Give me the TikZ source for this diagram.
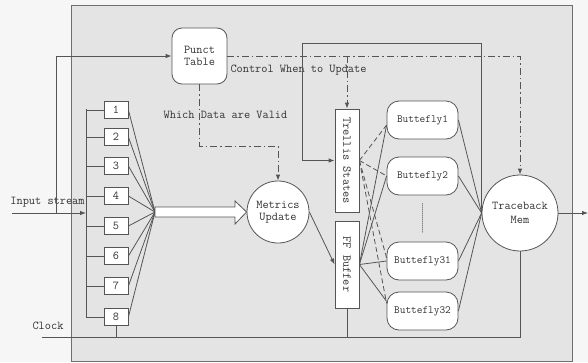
\documentclass[tikz,border=0pt]{standalone}
\usetikzlibrary{arrows.meta,calc}
\definecolor{ink}{HTML}{555555}
\definecolor{txt}{HTML}{333333}
\definecolor{panelfill}{HTML}{E4E4E4}
\definecolor{panelline}{HTML}{6E6E6E}
\definecolor{paper}{HTML}{F6F6F6}
\begin{document}
\begin{tikzpicture}[x=1pt,y=-1pt,
  font=\fontsize{12}{13}\selectfont\ttfamily, text=txt,
  line width=0.8pt, draw=ink,
  box/.style={draw=ink, fill=white, line width=0.8pt, inner sep=0pt, align=center},
  reg/.style={box, minimum width=24pt, minimum height=17pt},
  bfly/.style={box, rounded corners=12pt, minimum width=71pt, minimum height=38pt,
    font=\fontsize{11}{12}\selectfont\ttfamily},
  roundbox/.style={box, rounded corners=10pt, minimum width=55pt, minimum height=56pt},
  vbox/.style={box, minimum width=24pt},
  disc/.style={box, circle},
  arr/.style={-{Latex[length=6pt,width=4.5pt]}},
  ctrl/.style={ink, dash pattern=on 7pt off 3pt on 1.5pt off 3pt},
  link/.style={ink, dash pattern=on 5pt off 3pt},
  lbl/.style={inner sep=0pt}]

\useasboundingbox (0,0) rectangle (588,362);
\fill[paper] (0,0) rectangle (588,362);
% main processing panel
\path[draw=panelline, fill=panelfill, line width=1pt] (71,5) rectangle (572,361);

% blocks
\node[roundbox] (punct) at (199.5,56) {Punct\\[-1pt]Table};
\foreach \i/\yy in {1/110,2/137,3/166,4/196,5/226,6/256,7/286,8/317}
  \node[reg] (reg\i) at (116,\yy) {\i};
\node[disc, minimum size=62pt] (metrics) at (278,212) {Metrics\\[-1pt]Update};
\node[vbox, minimum height=103pt] (trellis) at (347,160.5) {\rotatebox{-90}{Trellis States}};
\node[vbox, minimum height=87pt] (ffbuf) at (347,264.5) {\rotatebox{-90}{FF Buffer}};
\node[bfly] (bf1) at (422.5,120) {Buttefly1};
\node[bfly] (bf2) at (422.5,176) {Buttefly2};
\node[bfly] (bf31) at (422.5,261) {Buttefly31};
\node[bfly] (bf32) at (422.5,311) {Buttefly32};
\node[disc, minimum size=76pt] (trace) at (520,213) {Traceback\\[1pt]Mem};

% free ends and junctions
\coordinate (in) at (12,213);
\coordinate (tap) at (56,213);
\coordinate (bustop) at (86,109);
\coordinate (busbot) at (86,317);
\coordinate (fan) at (155,212);
\coordinate (clk) at (42,337);
\coordinate (out) at (588,213);

% labels
\node[lbl] (instream) at (47.5,202) {Input stream};
\node[lbl] (clock) at (48,326) {Clock};
\node[lbl] (valid) at (225.5,115) {Which Data are Valid};
\node[lbl] (when) at (298.5,70) {Control When to Update};

% input bus feeding the eight registers
\draw[arr] (in) -- (in -| bustop);
\draw (bustop) -- (busbot);
\foreach \i in {1,...,8}
  \draw (reg\i.west -| bustop) -- (reg\i.west);
\draw[arr] (tap) |- (punct.west);

% registers merge into one wide path to the metrics unit
\foreach \i in {1,...,8}
  \draw (reg\i.east) -- (fan);
\fill[ink] ($(fan)+(-0.8,-3)$) rectangle ($(fan)+(0.8,3)$);
\draw[fill=white] ($(fan)+(0,-5)$) -- (235,207) -- (235,201) -- (metrics.west)
  -- (235,224) -- (235,217) -- ($(fan)+(0,5)$) -- cycle;

% control paths from the puncture table
\draw[ctrl,arr] (punct.south) -- ++(0,62) -| (metrics.north);
\draw[ctrl,arr] (punct.east) -| (trace.north);
\draw[ctrl,arr] (punct.east -| trellis.north) -- (trellis.north);

% feedback from the traceback memory to the trellis states
\draw[arr] (trace.west) -- ++(0,-170) -- (302,43) |- (trellis.west);

% metrics into the buffer
\draw[arr] (metrics.east) -- (ffbuf.west);

% trellis states and buffer to the butterflies
\draw[link] (trellis.east) -- (bf1.188);
\draw[link] (trellis.east) -- (bf2.west);
\draw[link] (trellis.east) -- (bf31.175);
\draw[link] (trellis.east) -- (bf32.168);
\draw (ffbuf.east) -- (bf1.188);
\draw (ffbuf.east) -- (bf2.west);
\draw (ffbuf.east) -- (bf31.west);
\draw (ffbuf.east) -- (bf32.165);
\draw[dash pattern=on 1pt off 1pt] ($(bf2.south)!0.17!(bf31.north)$) -- ($(bf2.south)!0.81!(bf31.north)$);

% butterflies to the traceback memory
\foreach \b in {bf1,bf2,bf31,bf32}
  \draw (\b.east) -- (trace.west);
\draw[arr] (trace.east) -- (out);

% clock distribution
\draw (clk) -| (trace.south);
\draw (reg8.south) -- (reg8.south |- clk);
\draw (ffbuf.south) -- (ffbuf.south |- clk);
\end{tikzpicture}
\end{document}
